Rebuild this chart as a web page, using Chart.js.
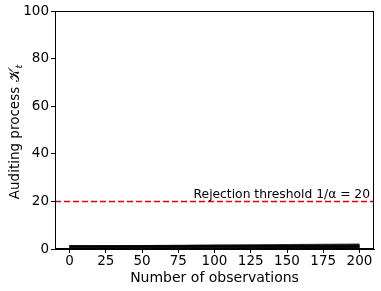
<!DOCTYPE html>
<html>
<head>
<meta charset="utf-8">
<script src="https://cdn.jsdelivr.net/npm/chart.js@4/dist/chart.umd.min.js"></script>
<style>
  html, body { margin: 0; padding: 0; background: #fff; }
  #wrap { width: 381px; height: 291px; }
</style>
</head>
<body>
<div id="wrap"><canvas id="myChart" width="381" height="291"></canvas></div>
<script>
// observation counts and the auditing process for a few runs
var steps = [0, 25, 50, 75, 100, 125, 150, 175, 200];
var run1 = [1.0, 1.15, 1.3, 1.4, 1.5, 1.6, 1.7, 1.8, 1.9];
var run2 = [1.0, 1.1, 1.2, 1.25, 1.35, 1.4, 1.45, 1.5, 1.55];
var run3 = [1.0, 1.05, 1.1, 1.1, 1.15, 1.2, 1.25, 1.25, 1.3];
var run4 = [1.0, 0.95, 0.95, 0.9, 0.9, 0.9, 0.85, 0.85, 0.85];
var run5 = [1.0, 0.9, 0.85, 0.8, 0.75, 0.7, 0.65, 0.6, 0.55];
var run6 = [1.0, 1.0, 1.0, 1.05, 1.0, 1.05, 1.05, 1.1, 1.1];
var runs = [run1, run2, run3, run4, run5, run6];

var threshold = 20;
var thresholdLabel = 'Rejection threshold 1/\u03b1 = 20';
var xTicks = [0, 25, 50, 75, 100, 125, 150, 175, 200];
var yTicks = [0, 20, 40, 60, 80, 100];

var fontFamily = "'DejaVu Sans', sans-serif";

function toPoints(values) {
    var pts = [];
    for (var i in values) {
        pts.push({x: steps[i], y: values[i]});
    }
    return pts;
}

var datasets = [];
for (var r in runs) {
    datasets.push({
        data: toPoints(runs[r]),
        borderColor: 'rgba(0,0,0,0.75)',
        borderWidth: 2,
        pointRadius: 0,
        tension: 0
    });
}
datasets.push({
    data: [{x: -10, y: threshold}, {x: 210, y: threshold}],
    borderColor: '#e00000',
    borderWidth: 1.5,
    borderDash: [6, 3],
    pointRadius: 0
});

// top/right frame, threshold text and the y label with its subscript
var framePlugin = {
    id: 'frame',
    afterDraw: function(chart) {
        var ctx = chart.ctx;
        var a = chart.chartArea;
        ctx.save();
        ctx.strokeStyle = '#000';
        ctx.lineWidth = 1;
        ctx.strokeRect(a.left + 0.5, a.top + 0.5, a.right - a.left - 1, a.bottom - a.top - 1);

        var yPix = chart.scales.y.getPixelForValue(threshold);
        ctx.fillStyle = '#000';
        ctx.font = "12.3px " + fontFamily;
        ctx.textAlign = 'right';
        ctx.textBaseline = 'alphabetic';
        ctx.fillText(thresholdLabel, a.right - 4, yPix - 3);

        // y axis title
        var main = 'Auditing process ';
        var sym = '\ud835\udca6';
        ctx.font = "13.5px " + fontFamily;
        var w1 = ctx.measureText(main).width;
        var w2 = ctx.measureText(sym).width;
        ctx.font = "italic 9.5px " + fontFamily;
        var w3 = ctx.measureText('t').width;
        var total = w1 + w2 + w3 + 1;
        var cy = (a.top + a.bottom) / 2 + 2;
        ctx.translate(19, cy);
        ctx.rotate(-Math.PI / 2);
        ctx.textAlign = 'left';
        ctx.font = "13.5px " + fontFamily;
        ctx.fillText(main, -total / 2, 0);
        ctx.fillText(sym, -total / 2 + w1, 0);
        ctx.font = "italic 9.5px " + fontFamily;
        ctx.fillText('t', -total / 2 + w1 + w2 + 1, 3);
        ctx.restore();
    }
};

var graphTarget = document.getElementById('myChart');
var lineGraph = new Chart(graphTarget, {
    type: 'line',
    data: { datasets: datasets },
    plugins: [framePlugin],
    options: {
        responsive: false,
        animation: false,
        layout: { padding: { top: 11, right: 7, left: 0, bottom: 4 } },
        plugins: { legend: { display: false }, tooltip: { enabled: false } },
        scales: {
            x: {
                type: 'linear',
                min: -10,
                max: 210,
                afterBuildTicks: function(axis) {
                    axis.ticks = xTicks.map(function(v) { return {value: v}; });
                },
                afterFit: function(axis) { axis.height = 38; },
                grid: { display: true, drawOnChartArea: false, drawTicks: true, tickLength: 4, color: '#000' },
                border: { display: true, color: '#000' },
                ticks: { color: '#000', padding: 0, maxRotation: 0, font: { family: fontFamily, size: 13.5 } },
                title: { display: true, text: 'Number of observations', color: '#000', padding: { top: 0, bottom: 0 }, font: { family: fontFamily, size: 14 } }
            },
            y: {
                min: 0,
                max: 100,
                afterBuildTicks: function(axis) {
                    axis.ticks = yTicks.map(function(v) { return {value: v}; });
                },
                afterFit: function(axis) { axis.width = 55; },
                grid: { display: true, drawOnChartArea: false, drawTicks: true, tickLength: 4, color: '#000' },
                border: { display: true, color: '#000' },
                ticks: { color: '#000', padding: 2, font: { family: fontFamily, size: 13.5 } },
                title: { display: false }
            }
        }
    }
});
</script>
</body>
</html>
